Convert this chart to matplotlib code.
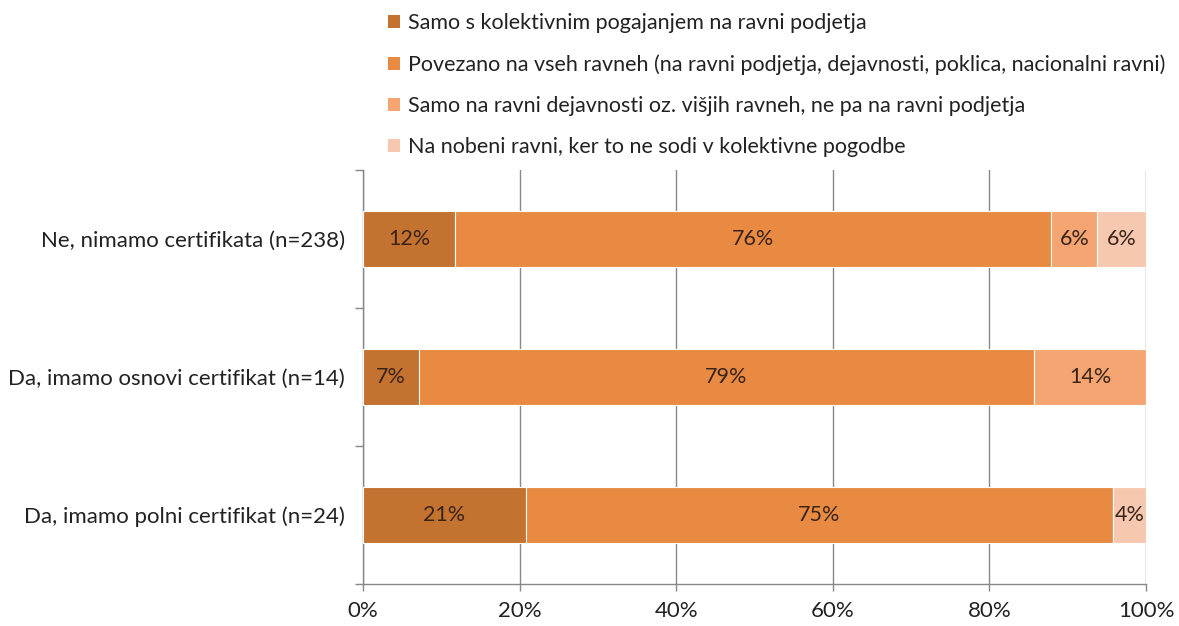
import numpy as np
import matplotlib
matplotlib.use('Agg')
from matplotlib import pyplot as plt
from matplotlib.patches import Patch

plt.rcParams['font.family'] = ['Lato', 'DejaVu Sans']

categories = ['Ne, nimamo certifikata (n=238)',
              'Da, imamo osnovi certifikat (n=14)',
              'Da, imamo polni certifikat (n=24)']
series_names = ['Samo s kolektivnim pogajanjem na ravni podjetja',
                'Povezano na vseh ravneh (na ravni podjetja, dejavnosti, poklica, nacionalni ravni)',
                'Samo na ravni dejavnosti oz. višjih ravneh, ne pa na ravni podjetja',
                'Na nobeni ravni, ker to ne sodi v kolektivne pogodbe']
# shares in percent, one list per series (rows follow categories)
s_podjetje = [11.8, 7.1, 20.8]
s_vse = [76.1, 78.6, 75.0]
s_dejavnost = [5.9, 14.3, 0.0]
s_nobena = [6.2, 0.0, 4.2]
xticks = [0, 20, 40, 60, 80, 100]

colors = ['#C4722F', '#E88A42', '#F4A572', '#F6C8B0']
series = [s_podjetje, s_vse, s_dejavnost, s_nobena]

fig = plt.figure(figsize=(11.79, 6.26), dpi=100)
ax = fig.add_axes([363/1179, 1 - 584/626, 783/1179, 414/626])

y = np.arange(len(categories))
left = np.zeros(len(categories))
for vals, col in zip(series, colors):
    vals = np.array(vals)
    bars = ax.barh(y, vals, left=left, height=0.4, color=col,
                   edgecolor='white', linewidth=0.8, zorder=3)
    for b, v in zip(bars, vals):
        if v > 0:
            ax.text(b.get_x() + b.get_width() / 2, b.get_y() + b.get_height() / 2,
                    '%d%%' % round(v), ha='center', va='center',
                    fontsize=15.5, color='#3a2418', zorder=4)
    left += vals

ax.set_xlim(0, 100)
ax.set_ylim(2.5, -0.5)
ax.set_xticks(xticks)
ax.set_xticklabels(['%d%%' % t for t in xticks], fontsize=16, color='#222222')
ax.set_yticks(y)
ax.set_yticklabels(categories, fontsize=16, color='#222222')
ax.set_yticks([-0.5, 0.5, 1.5, 2.5], minor=True)
ax.tick_params(axis='y', which='major', length=0, pad=13)
ax.tick_params(axis='y', which='minor', length=6, color='#888888', width=1)
ax.tick_params(axis='x', length=5, color='#888888', width=1, pad=7)
ax.grid(axis='x', color='#888888', linewidth=1, zorder=0)
for s in ['top', 'right']:
    ax.spines[s].set_visible(False)
for s in ['left', 'bottom']:
    ax.spines[s].set_color('#888888')
    ax.spines[s].set_linewidth(1)

handles = [Patch(facecolor=c, edgecolor='none') for c in colors]
fig.legend(handles, series_names, loc='upper left',
           bbox_to_anchor=(369/1179, 1.01), frameon=False, fontsize=15.5,
           handlelength=0.55, handleheight=0.55, handletextpad=0.35,
           labelspacing=0.98, labelcolor='#222222')

fig.savefig('out.png', dpi=100)
